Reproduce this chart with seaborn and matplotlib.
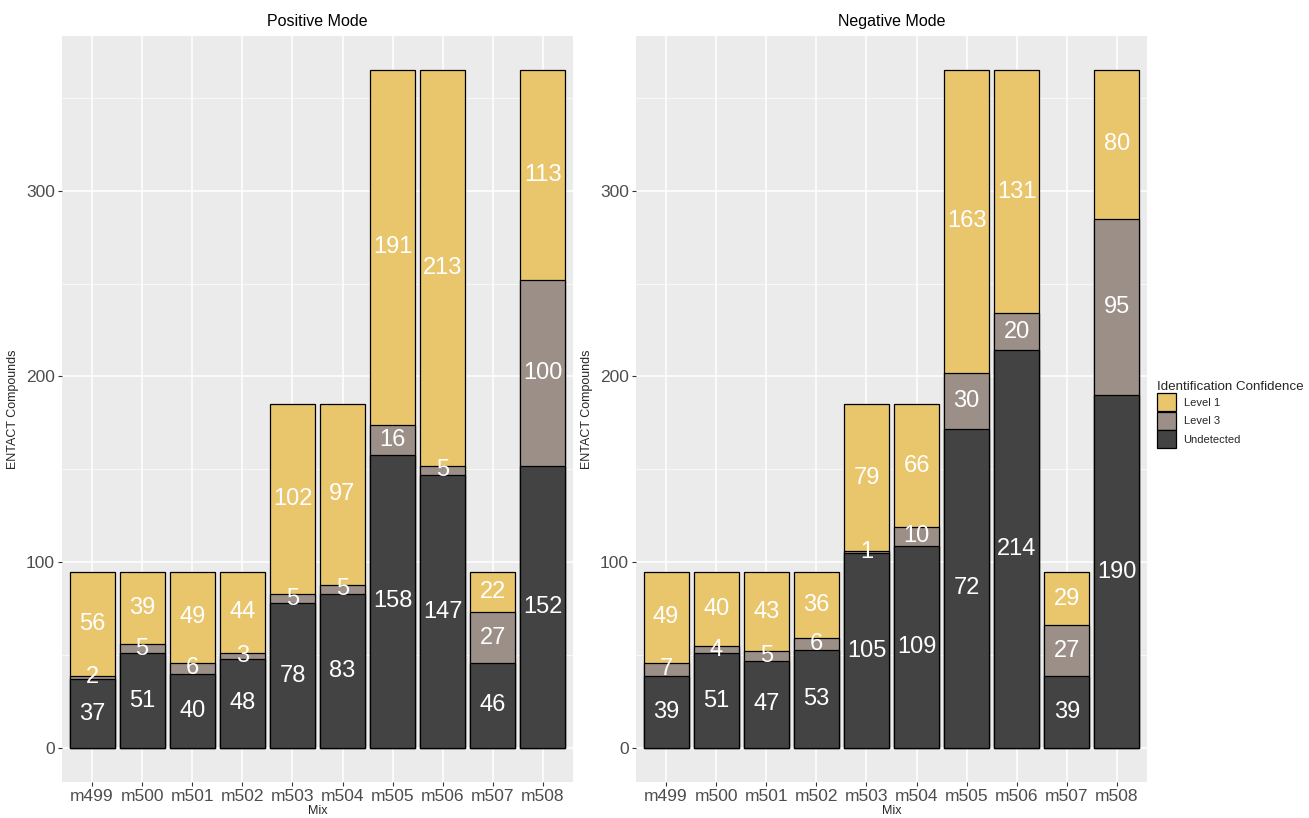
import matplotlib
matplotlib.use("Agg")
import matplotlib.pyplot as plt
from matplotlib.patches import Patch
from matplotlib.ticker import MultipleLocator
import seaborn as sns
import numpy as np

# values
mixes = ['m499', 'm500', 'm501', 'm502', 'm503', 'm504', 'm505', 'm506', 'm507', 'm508']

pos_undetected = [37, 51, 40, 48, 78, 83, 158, 147, 46, 152]
pos_level3 = [2, 5, 6, 3, 5, 5, 16, 5, 27, 100]
pos_level1 = [56, 39, 49, 44, 102, 97, 191, 213, 22, 113]

neg_undetected = [39, 51, 47, 53, 105, 109, 172, 214, 39, 190]
neg_level3 = [7, 4, 5, 6, 1, 10, 30, 20, 27, 95]
neg_level1 = [49, 40, 43, 36, 79, 66, 163, 131, 29, 80]
# the reference prints "72" on the m505 negative-mode undetected segment
neg_undetected_text = ['39', '51', '47', '53', '105', '109', '72', '214', '39', '190']

levels = ['Level 1', 'Level 3', 'Undetected']
colors = {'Level 1': '#E9C66C', 'Level 3': '#9B8F87', 'Undetected': '#434343'}

sns.set_theme(style="darkgrid")
plt.rcParams['font.family'] = ['Liberation Sans', 'DejaVu Sans']


def plot_mode(ax, undetected, level3, level1, title, undetected_text=None):
    """stacked bars: draw totals first, then the lower parts on top"""
    und = np.array(undetected)
    l3 = np.array(level3)
    l1 = np.array(level1)
    layers = [(und + l3 + l1, 'Level 1'), (und + l3, 'Level 3'), (und, 'Undetected')]
    for heights, lev in layers:
        sns.barplot(x=mixes, y=heights, color=colors[lev], saturation=1, width=0.9,
                    edgecolor='black', linewidth=0.9, errorbar=None, ax=ax)

    if undetected_text is None:
        undetected_text = [str(v) for v in und]
    for i in range(len(mixes)):
        ax.text(i, und[i] / 2, undetected_text[i], ha='center', va='center',
                color='white', fontsize=17)
        ax.text(i, und[i] + l3[i] / 2, str(l3[i]), ha='center', va='center',
                color='white', fontsize=17)
        ax.text(i, und[i] + l3[i] + l1[i] / 2, str(l1[i]), ha='center', va='center',
                color='white', fontsize=17)

    ax.set_facecolor('#EBEBEB')
    ax.set_xlim(-0.6, len(mixes) - 0.4)
    ax.set_ylim(-18.25, 383.25)
    ax.yaxis.set_major_locator(MultipleLocator(100))
    ax.yaxis.set_minor_locator(MultipleLocator(50))
    ax.grid(which='major', color='white', linewidth=1.1)
    ax.grid(which='minor', axis='y', color='white', linewidth=0.5)
    ax.set_axisbelow(True)
    for s in ax.spines.values():
        s.set_visible(False)
    ax.tick_params(axis='both', which='major', length=3, width=0.8, color='#333333',
                   labelcolor='#4D4D4D', labelsize=12.5, pad=2, bottom=True, left=True)
    ax.tick_params(which='minor', length=0)
    ax.set_title(title, fontsize=11.5, color='black', pad=7)
    ax.set_xlabel('Mix', fontsize=9, labelpad=1)
    ax.set_ylabel('ENTACT Compounds', fontsize=9, labelpad=5)


fig = plt.figure(figsize=(13.09, 8.18), dpi=100)
ax1 = fig.add_axes([62 / 1309, 36 / 818, 511 / 1309, 746 / 818])
ax2 = fig.add_axes([636 / 1309, 36 / 818, 511 / 1309, 746 / 818])

plot_mode(ax1, pos_undetected, pos_level3, pos_level1, 'Positive Mode')
plot_mode(ax2, neg_undetected, neg_level3, neg_level1, 'Negative Mode', neg_undetected_text)

handles = [Patch(facecolor=colors[l], edgecolor='black', linewidth=0.9, label=l) for l in levels]
leg = fig.legend(handles=handles, title='Identification Confidence', loc='upper left',
                 bbox_to_anchor=(1148 / 1309, 1 - 372 / 818), frameon=False,
                 fontsize=8, title_fontsize=9.6, handlelength=1.7, handleheight=2.1,
                 labelspacing=0.05, handletextpad=0.7, alignment='left',
                 borderpad=0.3)

plt.savefig('out.png', dpi=100)
